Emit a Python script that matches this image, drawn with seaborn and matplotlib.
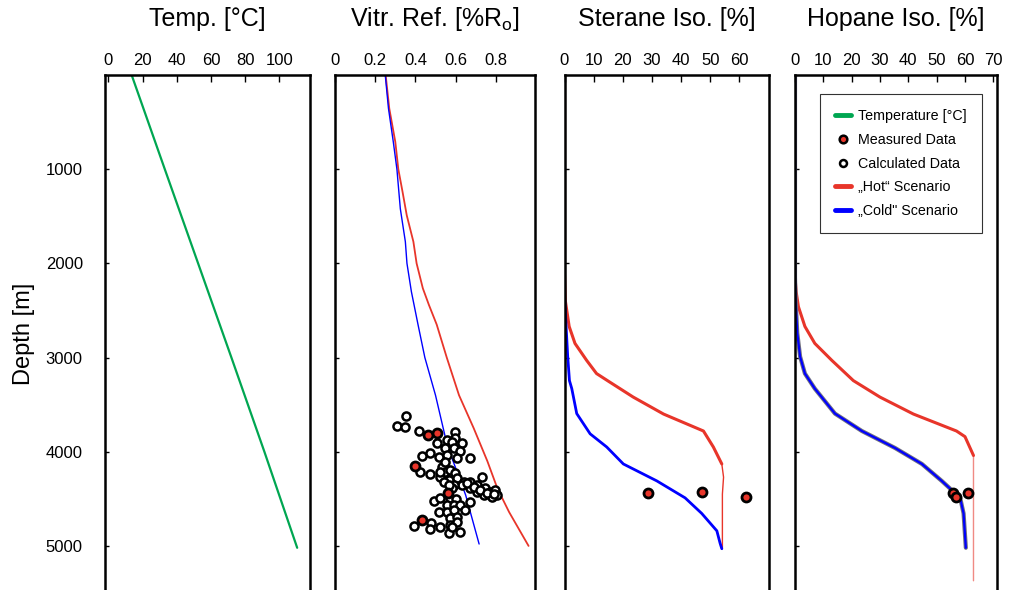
import numpy as np
import matplotlib
matplotlib.use("Agg")
import matplotlib.pyplot as plt
import seaborn as sns
from matplotlib.lines import Line2D

# data (depth in m)
temp_depth = [0, 1000, 2000, 3000, 4000, 5020]
temp_c = [13.6, 33, 52.5, 72, 91.3, 110.5]

vr_hot_depth = [0, 355, 710, 1000, 1240, 1490, 1770, 2000, 2265, 2440, 2650, 3000, 3400, 3750, 4100, 4390, 4640, 5000]
vr_hot = [0.252, 0.27, 0.30, 0.315, 0.336, 0.357, 0.39, 0.406, 0.437, 0.467, 0.506, 0.556, 0.617, 0.69, 0.758, 0.808, 0.866, 0.963]
vr_cold_depth = [0, 355, 710, 1000, 1420, 1770, 2000, 2300, 2650, 3000, 3400, 3930, 4460, 4980]
vr_cold = [0.25, 0.266, 0.29, 0.308, 0.325, 0.35, 0.358, 0.38, 0.413, 0.447, 0.5, 0.558, 0.65, 0.717]

vr_calc = [0.354, 0.308, 0.346, 0.417, 0.599, 0.599, 0.557, 0.507, 0.582, 0.632, 0.549, 0.590, 0.624,
           0.474, 0.432, 0.516, 0.557, 0.607, 0.670, 0.424, 0.474, 0.532, 0.549, 0.574, 0.599, 0.524,
           0.565, 0.607, 0.640, 0.674, 0.707, 0.732, 0.748, 0.773, 0.798, 0.807, 0.782, 0.740, 0.707,
           0.674, 0.632, 0.590, 0.491, 0.524, 0.574, 0.604, 0.557, 0.590, 0.624, 0.674, 0.516, 0.557,
           0.590, 0.649, 0.574, 0.607, 0.391, 0.477, 0.524, 0.474, 0.574, 0.607, 0.565, 0.624, 0.582,
           0.657, 0.690, 0.723, 0.757, 0.790, 0.540, 0.582, 0.565, 0.549, 0.524]
vr_calc_depth = [3618, 3728, 3739, 3781, 3788, 3859, 3877, 3912, 3894, 3912, 3965, 3958, 3994,
                 4018, 4043, 4054, 4036, 4071, 4071, 4213, 4234, 4160, 4213, 4195, 4231, 4266,
                 4301, 4284, 4319, 4326, 4355, 4266, 4390, 4425, 4408, 4461, 4478, 4461, 4425,
                 4390, 4355, 4355, 4524, 4496, 4496, 4503, 4567, 4567, 4567, 4539, 4645, 4638,
                 4620, 4620, 4708, 4691, 4786, 4762, 4797, 4822, 4779, 4744, 4868, 4850, 4797,
                 4337, 4372, 4408, 4436, 4454, 4319, 4390, 4355, 4107, 4213]
vr_meas = [0.461, 0.507, 0.399, 0.562, 0.432]
vr_meas_depth = [3824, 3806, 4149, 4443, 4726]

st_hot_depth = [0, 2100, 2400, 2670, 2850, 3030, 3170, 3250, 3420, 3600, 3780, 3950, 4130, 4270, 4450, 5030]
st_hot = [0, 0, 0.3, 1.6, 3.6, 7.6, 11, 15, 23.6, 34, 47.7, 51.1, 54, 54.6, 54.2, 54.2]
st_cold_depth = [0, 2350, 2990, 3245, 3330, 3595, 3810, 3950, 4130, 4310, 4490, 4655, 4840, 4970, 5030]
st_cold = [0, 0, 1.1, 1.7, 2.5, 4.2, 8.8, 14.5, 20.2, 31.7, 41.4, 47.1, 52.3, 53.4, 54]
st_meas = [28.8, 47.1, 62.3]
st_meas_depth = [4443, 4428, 4481]

hp_hot_depth = [0, 2140, 2300, 2460, 2670, 2850, 3030, 3245, 3420, 3600, 3780, 3840, 4040, 5370]
hp_hot = [0, 0, 0.4, 1.2, 3.5, 7, 13, 20.6, 30, 41.8, 57, 60, 63, 63]
hp_cold_depth = [0, 2150, 2390, 2740, 2990, 3170, 3330, 3595, 3780, 3960, 4130, 4310, 4490, 4655, 5020]
hp_cold = [0, 0, 0.2, 0.8, 1.8, 3.5, 7, 14.1, 23.6, 35.3, 44.8, 51.8, 58.3, 59.5, 60.3]
hp_meas = [55.7, 56.9, 60.9]
hp_meas_depth = [4443, 4486, 4433]

titles = ["Temp. [°C]", "Vitr. Ref. [%R$_\\mathregular{o}$]", "Sterane Iso. [%]", "Hopane Iso. [%]"]
legend_labels = ["Temperature [°C]", "Measured Data", "Calculated Data", "„Hot“ Scenario", "„Cold\" Scenario"]

GREEN = "#00a651"
RED = "#e8352a"
BLUE = "#0000ff"

sns.set_style("white")
plt.rcParams['font.family'] = ['Liberation Sans', 'DejaVu Sans']
plt.rcParams['text.color'] = 'black'
plt.rcParams['axes.labelcolor'] = 'black'
plt.rcParams['xtick.color'] = 'black'
plt.rcParams['ytick.color'] = 'black'

fig = plt.figure(figsize=(10.11, 5.9), dpi=100)
W, H = 1011.0, 590.0
top_px, bot_px = 75.0, 593.0
lefts = [105, 335, 564.5, 795]
widths = [205, 200, 204.5, 202]
axes = []
for l, w in zip(lefts, widths):
    ax = fig.add_axes([l / W, 1 - bot_px / H, w / W, (bot_px - top_px) / H])
    axes.append(ax)

def draw(ax, x, y, **kw):
    sns.lineplot(x=x, y=y, sort=False, estimator=None, ax=ax, legend=False, **kw)

def meas(ax, x, y):
    sns.scatterplot(x=x, y=y, ax=ax, s=42, color=RED, edgecolor="black", linewidth=2.0, zorder=5, legend=False)

# temperature
draw(axes[0], temp_c, temp_depth, color=GREEN, linewidth=1.6)

# vitrinite reflectance
draw(axes[1], vr_hot, vr_hot_depth, color=RED, linewidth=1.3)
draw(axes[1], vr_cold, vr_cold_depth, color=BLUE, linewidth=1.0)
sns.scatterplot(x=vr_calc, y=vr_calc_depth, ax=axes[1], s=34, facecolor="white",
                edgecolor="black", linewidth=1.8, zorder=4, legend=False)
meas(axes[1], vr_meas, vr_meas_depth)

# sterane isomerisation
draw(axes[2], st_hot, st_hot_depth, color=RED, linewidth=1.0)
draw(axes[2], st_hot[:13], st_hot_depth[:13], color=RED, linewidth=2.2)
draw(axes[2], st_cold, st_cold_depth, color=BLUE, linewidth=2.0)
meas(axes[2], st_meas, st_meas_depth)

# hopane isomerisation
draw(axes[3], hp_hot, hp_hot_depth, color="#f08a84", linewidth=1.0)
draw(axes[3], hp_hot[:13], hp_hot_depth[:13], color=RED, linewidth=2.2)
draw(axes[3], hp_cold, hp_cold_depth, color="#707080", linewidth=3.0)
draw(axes[3], hp_cold, hp_cold_depth, color=BLUE, linewidth=1.6)
meas(axes[3], hp_meas, hp_meas_depth)

xlims = [(-2, 118), (0, 0.995), (0, 70.2), (0, 71.3)]
xticks = [[0, 20, 40, 60, 80, 100], [0, 0.2, 0.4, 0.6, 0.8], [0, 10, 20, 30, 40, 50, 60],
          [0, 10, 20, 30, 40, 50, 60, 70]]
xticklabels = [["0", "20", "40", "60", "80", "100"], ["0", "0.2", "0.4", "0.6", "0.8"],
               ["0", "10", "20", "30", "40", "50", "60"], ["0", "10", "20", "30", "40", "50", "60", "70"]]
depth_ticks = [1000, 2000, 3000, 4000, 5000]

for i, ax in enumerate(axes):
    ax.set_xlim(*xlims[i])
    ax.set_ylim(5500, 0)
    ax.xaxis.tick_top()
    ax.set_xticks(xticks[i])
    ax.set_xticklabels(xticklabels[i])
    ax.set_yticks(depth_ticks)
    ax.tick_params(axis="x", direction="in", length=5, width=1, pad=5, labelsize=12, top=True, bottom=False)
    ax.tick_params(axis="y", direction="in", length=3, width=1, pad=16, labelsize=12, left=True)
    ax.set_xlabel("")
    ax.set_ylabel("")
    for s in ax.spines.values():
        s.set_color("black")
        s.set_linewidth(1.8)
    if i > 0:
        ax.set_yticklabels([])
    ax.text(0.5, 1.108, titles[i], transform=ax.transAxes, ha="center", va="center", fontsize=18)

axes[0].set_ylabel("Depth [m]", fontsize=17, labelpad=8)

handles = [
    Line2D([], [], color=GREEN, linewidth=3.5),
    Line2D([], [], linestyle="none", marker="o", markersize=5.5, markerfacecolor=RED,
           markeredgecolor="black", markeredgewidth=1.8),
    Line2D([], [], linestyle="none", marker="o", markersize=5, markerfacecolor="white",
           markeredgecolor="black", markeredgewidth=1.8),
    Line2D([], [], color=RED, linewidth=3.5),
    Line2D([], [], color=BLUE, linewidth=3.5),
]
leg = axes[3].legend(handles, legend_labels, loc="upper right", bbox_to_anchor=(0.926, 0.963),
                     borderaxespad=0, fontsize=10.3, frameon=True, fancybox=False, shadow=False,
                     handlelength=1.1, handletextpad=0.55, labelspacing=0.68, borderpad=1.05,
                     markerscale=1.0)
leg.get_frame().set_edgecolor("black")
leg.get_frame().set_linewidth(0.8)

fig.savefig("out.png", dpi=100)
